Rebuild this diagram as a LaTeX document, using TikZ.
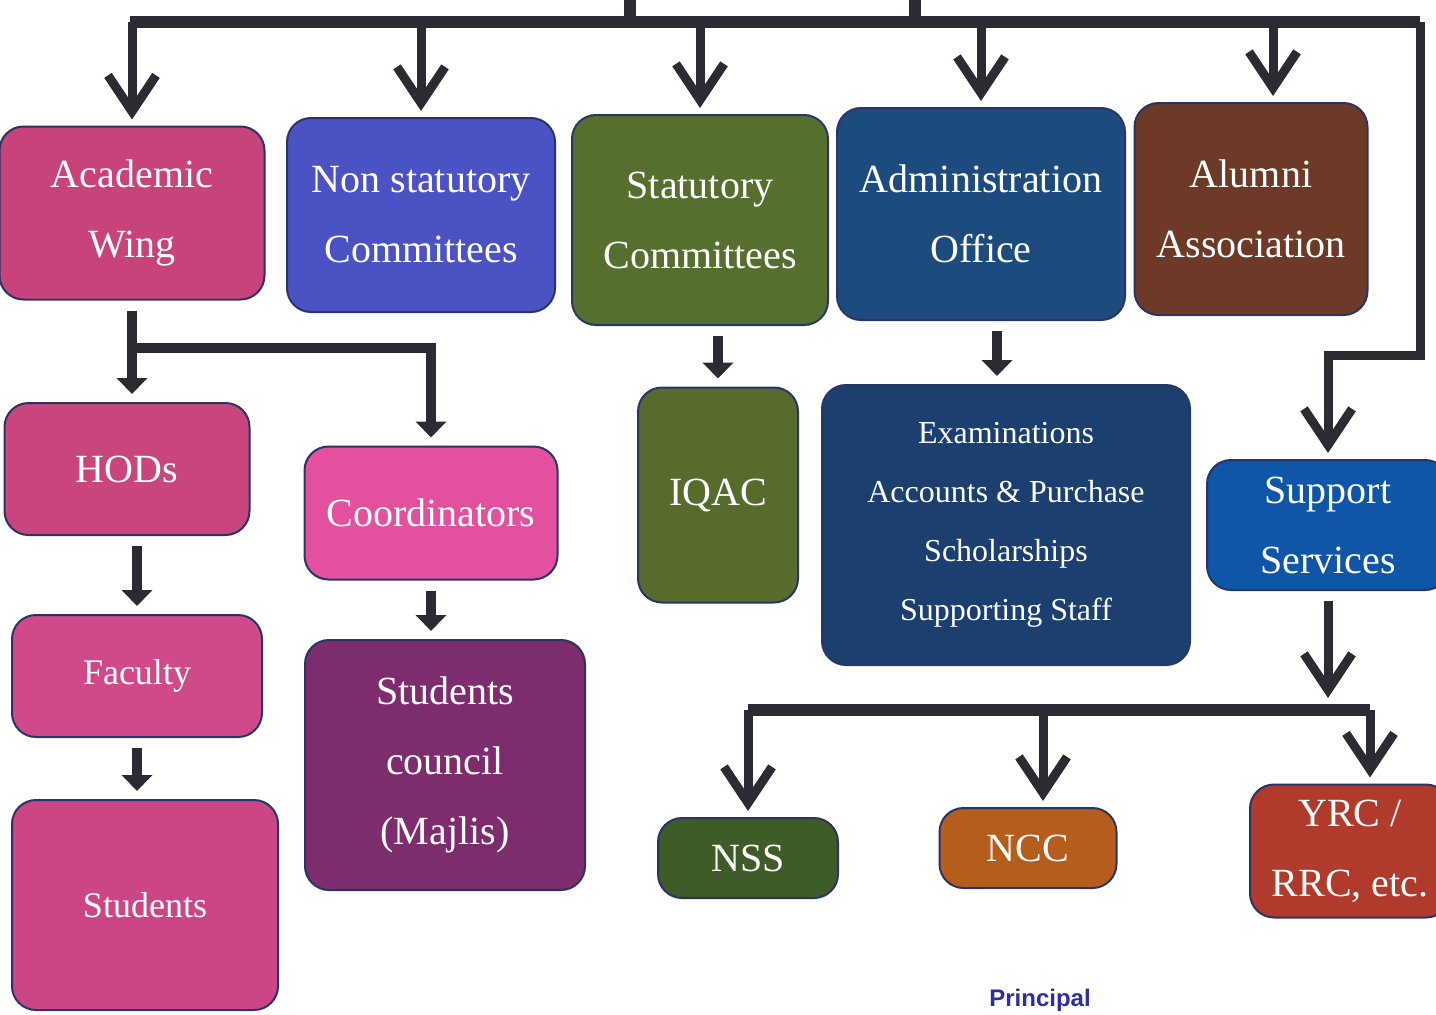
\documentclass[tikz,border=0pt]{standalone}
\usepackage{fontspec}
\setmainfont{Liberation Serif}
\newfontfamily\signfont{Liberation Sans}
\usepackage{xcolor}
\usetikzlibrary{arrows.meta}

\definecolor{linegray}{HTML}{2B2B33}
\definecolor{boxline}{HTML}{2A3566}
\definecolor{acadpink}{HTML}{C8437C}
\definecolor{hodpink}{HTML}{C8457E}
\definecolor{coordpink}{HTML}{E2509E}
\definecolor{facpink}{HTML}{D04A8A}
\definecolor{studpink}{HTML}{CC4686}
\definecolor{nonstatblue}{HTML}{4B52C4}
\definecolor{statgreen}{HTML}{55702E}
\definecolor{iqacgreen}{HTML}{566B2C}
\definecolor{adminblue}{HTML}{1D4B7D}
\definecolor{examblue}{HTML}{1B3F6E}
\definecolor{alumnibrown}{HTML}{6E3A28}
\definecolor{supportblue}{HTML}{0F55A8}
\definecolor{councilpurple}{HTML}{7D2D6E}
\definecolor{nssgreen}{HTML}{3E5B28}
\definecolor{nccorange}{HTML}{B55D1C}
\definecolor{yrcred}{HTML}{B03A2B}
\definecolor{signblue}{HTML}{2E2EA0}

% one rounded unit box: [opts]{name}{x,y}{colour}{width}{height}{text}
\newcommand{\orgBox}[7][]{%
  \node[orgbox, fill=#4, minimum width=#5pt, minimum height=#6pt, #1]
    (#2) at (#3) {#7};%
}

\begin{document}
\begin{tikzpicture}[x=1pt, y=-1pt,
    orgbox/.style={draw=boxline, line width=2pt, rounded corners=24pt,
      text=white, align=center, inner sep=0pt,
      font=\fontsize{40}{70}\selectfont},
    smallfont/.style={font=\fontsize{36}{70}\selectfont},
    examfont/.style={font=\fontsize{32}{59}\selectfont},
    bar/.style={draw=linegray, line width=12pt},
    bigarrow/.style={draw=linegray, line width=9pt, line join=miter,
      -{Straight Barb[length=36pt, width=48pt]}, shorten >=6pt},
    smallarrow/.style={draw=linegray, line width=10pt,
      -{Triangle[length=16pt, width=30pt]}, shorten <=10pt, shorten >=8pt}]

  \fill[white] (0,0) rectangle (1436,1015);
  \useasboundingbox (0,0) rectangle (1436,1015);

  % top row
  \orgBox{acad}{132,213}{acadpink}{265}{173}{Academic\\Wing}
  \orgBox{nonstat}{421,215}{nonstatblue}{268}{194}{Non statutory\\Committees}
  \orgBox{stat}{700,220}{statgreen}{256}{210}{Statutory\\Committees}
  \orgBox{admin}{981,214}{adminblue}{288}{212}{Administration\\Office}
  \orgBox{alumni}{1251,209}{alumnibrown}{233}{212}{Alumni\\Association}

  % academic side
  \orgBox{hods}{127,469}{hodpink}{245}{132}{HODs}
  \orgBox{coord}{431,513}{coordpink}{253}{133}{Coordinators}
  \orgBox[smallfont]{faculty}{137,676}{facpink}{250}{122}{Faculty}
  \orgBox[smallfont]{students}{145,905}{studpink}{266}{210}{Students}
  \orgBox{council}{445,765}{councilpurple}{280}{250}{Students\\council\\(Majlis)}

  % middle
  \orgBox{iqac}{718,495}{iqacgreen}{160}{215}{IQAC}
  \orgBox[examfont]{exam}{1006,525}{examblue}{368}{280}{Examinations\\Accounts \& Purchase\\Scholarships\\Supporting Staff}

  % support services
  \orgBox{support}{1328,525}{supportblue}{242}{130}{Support\\Services}
  \orgBox{nss}{748,858}{nssgreen}{180}{80}{NSS}
  \orgBox{ncc}{1028,848}{nccorange}{177}{80}{NCC}
  \orgBox{yrc}{1350,851}{yrcred}{200}{133}{YRC /\\RRC, etc.}

  % main bar
  \coordinate (barL) at (130,22);
  \coordinate (barR) at (1420,22);
  \coordinate (bend) at (1420,355);
  \draw[bar] (barL) -- (barR);
  \draw[bar] (630,22) -- (630,-10);
  \draw[bar] (915,22) -- (915,-10);

  \draw[bigarrow] (acad.north |- barL) -- (acad.north);
  \draw[bigarrow] (nonstat.north |- barL) -- (nonstat.north);
  \draw[bigarrow] (stat.north |- barL) -- (stat.north);
  \draw[bigarrow] (admin.north |- barL) -- (admin.north);
  \draw[bigarrow] ([xshift=22pt]alumni.north |- barL) -- ([xshift=22pt]alumni.north);
  \draw[bigarrow] (barR) -- (bend) -| (support.north);

  % academic wing branches
  \coordinate (acadsplit) at (132,348);
  \draw[smallarrow] (acad.south) -- (hods.north -| acad.south);
  \draw[draw=linegray, line width=10pt, -{Triangle[length=16pt, width=30pt]},
    shorten >=8pt] ([xshift=-5pt]acadsplit) -| (coord.north);
  \draw[smallarrow] (faculty.north |- hods.south) -- (faculty.north);
  \draw[smallarrow] (faculty.south) -- (faculty.south |- students.north);
  \draw[smallarrow] (coord.south) -- (coord.south |- council.north);

  \draw[smallarrow] (iqac.north |- stat.south) -- (iqac.north);
  \draw[smallarrow] ([xshift=-9pt]exam.north |- admin.south) -- ([xshift=-9pt]exam.north);

  % lower bar
  \coordinate (lowL) at (748,710);
  \coordinate (lowR) at (1370,710);
  \draw[bigarrow, shorten <=10pt, shorten >=12pt] (support.south) -- (support.south |- lowL);
  \draw[bar] (lowL) -- (lowR);
  \draw[bigarrow] (lowL) -- (nss.north);
  \draw[bigarrow] ([xshift=15pt]ncc.north |- lowL) -- ([xshift=15pt]ncc.north);
  \draw[bigarrow] (lowR) -- ([xshift=20pt]yrc.north);

  \node[text=signblue, font=\signfont\bfseries\fontsize{24}{28}\selectfont]
    (principal) at (1040,1000) {Principal};
\end{tikzpicture}
\end{document}
